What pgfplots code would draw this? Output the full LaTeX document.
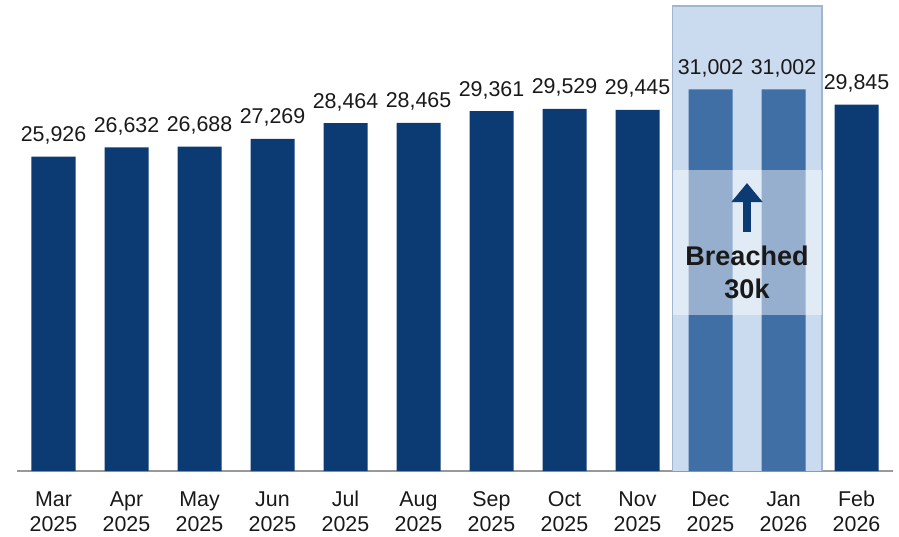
\documentclass[border=0pt]{standalone}
\usepackage{pgfplots}
\pgfplotsset{compat=1.18}
\usepackage{fontspec}
\setmainfont{Liberation Sans}
\usetikzlibrary{arrows.meta}
\definecolor{navy}{RGB}{12,58,115}
\definecolor{hlbar}{RGB}{64,111,166}
\definecolor{boxbg}{RGB}{202,219,239}
\definecolor{boxedge}{RGB}{160,182,208}
\definecolor{txt}{RGB}{25,25,25}
\begin{document}
\begin{tikzpicture}
\begin{axis}[
  scale only axis,
  width=438pt, height=232.5pt,
  xmin=-0.5, xmax=11.5,
  ymin=2260, ymax=37275,
  ybar, bar width=22pt, bar shift=0pt,
  axis x line=bottom, axis y line=none,
  x axis line style={-, draw=gray!80, line width=0.8pt},
  xtick={0,1,...,11},
  xticklabels={\strut Mar\\\strut 2025,\strut Apr\\\strut 2025,\strut May\\\strut 2025,\strut Jun\\\strut 2025,\strut Jul\\\strut 2025,\strut Aug\\\strut 2025,\strut Sep\\\strut 2025,\strut Oct\\\strut 2025,\strut Nov\\\strut 2025,\strut Dec\\\strut 2025,\strut Jan\\\strut 2026,\strut Feb\\\strut 2026},
  major tick length=0pt,
  xticklabel style={align=center, font=\fontsize{10.7}{12.5}\selectfont, text=txt, yshift=-5.25pt},
  /pgf/number format/assume math mode=true,
  /pgf/number format/.cd, fixed, precision=0, 1000 sep={,},
  /pgfplots/.cd,
  nodes near coords,
  every node near coord/.append style={font=\fontsize{10.7}{12}\selectfont, text=txt, anchor=base, yshift=7.5pt, inner sep=0pt},
]
\fill[boxbg] (axis cs:8.48,2260) rectangle (axis cs:10.53,37275);
\draw[boxedge, line width=0.8pt] (axis cs:8.48,2260) -- (axis cs:8.48,37275) -- (axis cs:10.53,37275) -- (axis cs:10.53,2260);
\addplot[fill=navy, draw=none] coordinates {
(0,25926) (1,26632) (2,26688) (3,27269) (4,28464) (5,28465) (6,29361) (7,29529) (8,29445) (11,29845)};
\addplot[fill=hlbar, draw=none] coordinates {(9,31002) (10,31002)};
\fill[white, opacity=0.45] (axis cs:8.48,14007) rectangle (axis cs:10.53,24925);
\draw[navy, line width=4pt, -{Triangle[width=15pt,length=9.5pt]}] (axis cs:9.5,20257) -- (axis cs:9.5,23946);
\node[font=\bfseries\fontsize{13.5}{16}\selectfont, text=txt, anchor=base] at (axis cs:9.5,17697) {Breached};
\node[font=\bfseries\fontsize{13.5}{16}\selectfont, text=txt, anchor=base] at (axis cs:9.5,15212) {30k};
\end{axis}
\pgfresetboundingbox
\path ([shift={(-8.5pt,-32.5pt)}]current axis.south west) rectangle ([shift={(3pt,3pt)}]current axis.north east);
\end{tikzpicture}
\end{document}
